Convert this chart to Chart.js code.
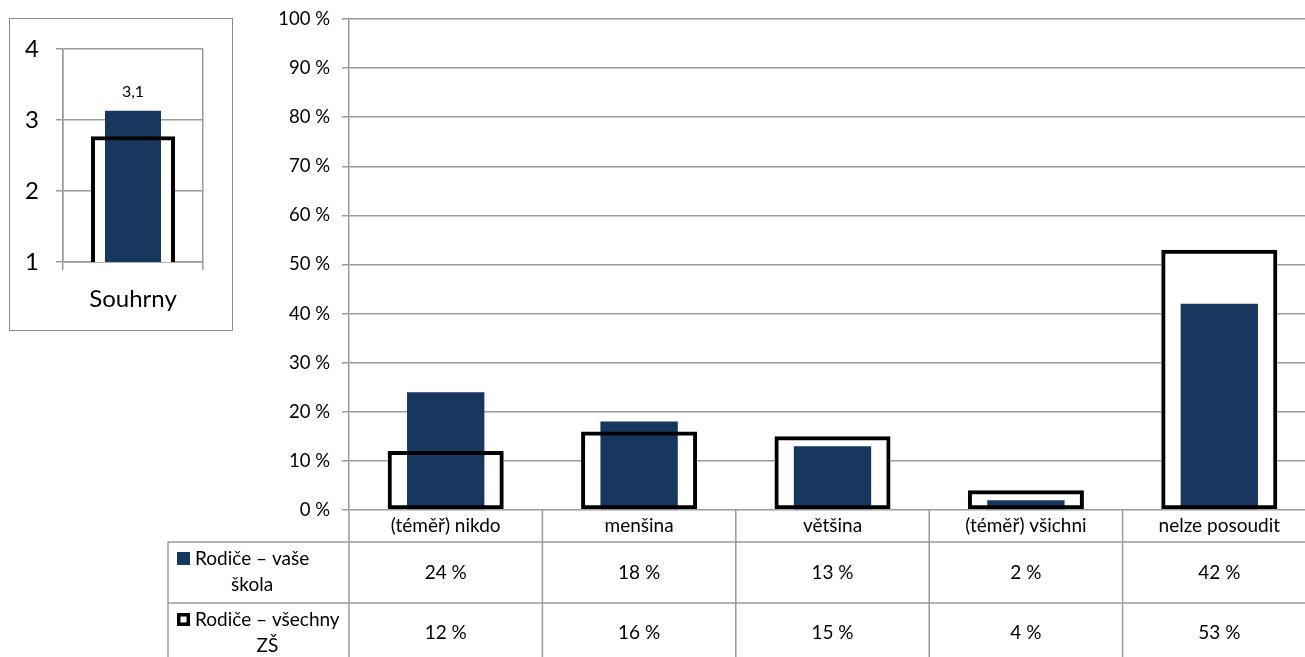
<!DOCTYPE html>
<html>
<head>
<meta charset="utf-8">
<script src="https://cdn.jsdelivr.net/npm/chart.js@4"></script>
<style>
html, body { margin: 0; padding: 0; background: #fff; overflow: hidden; width: 1305px; height: 657px; }
#mainBox { position: absolute; left: 0; top: 0; width: 1317px; height: 657px; }
#summaryBox { position: absolute; left: 9px; top: 18px; width: 224px; height: 313px; box-sizing: border-box; border: 1px solid #8c8c8c; background: #fff; }
</style>
</head>
<body>
<div id="mainBox"><canvas id="mainChart"></canvas></div>
<div id="summaryBox"><canvas id="summaryChart"></canvas></div>
<script>
// main chart data
const categories = ['(téměř) nikdo', 'menšina', 'většina', '(téměř) všichni', 'nelze posoudit'];
const schoolValues = [24, 18, 13, 2, 42];
const allSchoolsValues = [12, 16, 15, 4, 53];
const seriesNames = [['Rodiče – vaše', 'škola'], ['Rodiče – všechny', 'ZŠ']];
const yTickValues = [0, 10, 20, 30, 40, 50, 60, 70, 80, 90, 100];

// summary chart data
const summaryLabels = ['Souhrny'];
const summarySchool = [3.13];
const summaryAll = [2.77];
const summaryTickValues = [1, 2, 3, 4];

const FONT = 'Lato, "Open Sans", sans-serif';
const NAVY = '#17375E';
const GRID = '#9a9a9a';

function barDatasets(school, all) {
    return [
        { data: all, backgroundColor: '#fff', borderWidth: 0, barPercentage: 0.6, categoryPercentage: 1, grouped: false, order: 3 },
        { data: school, backgroundColor: NAVY, borderWidth: 0, barPercentage: 0.4, categoryPercentage: 1, grouped: false, order: 2 },
        { data: all, backgroundColor: 'rgba(0,0,0,0)', borderColor: '#000', borderWidth: 4, borderSkipped: false,
          barPercentage: 0.6, categoryPercentage: 1, grouped: false, order: 1 }
    ];
}

const dataTable = {
    id: 'dataTable',
    afterDraw(chart) {
        const ctx = chart.ctx;
        const x = chart.scales.x;
        const area = chart.chartArea;
        const half = (x.getPixelForValue(1) - x.getPixelForValue(0)) / 2;
        const rows = [542, 603];
        const bottom = 657;
        const tableLeft = 168;

        ctx.save();
        ctx.strokeStyle = GRID;
        ctx.lineWidth = 1.5;
        ctx.beginPath();
        for (let i = 0; i <= categories.length; i++) {
            const bx = x.getPixelForValue(0) - half + i * half * 2;
            ctx.moveTo(bx, area.bottom);
            ctx.lineTo(bx, bottom);
        }
        ctx.moveTo(tableLeft, rows[0]);
        ctx.lineTo(tableLeft, bottom);
        rows.forEach(ry => { ctx.moveTo(tableLeft, ry); ctx.lineTo(area.right + 5, ry); });
        ctx.stroke();

        ctx.fillStyle = '#000';
        ctx.font = '19px ' + FONT;
        ctx.textAlign = 'center';
        ctx.textBaseline = 'middle';
        categories.forEach((c, i) => {
            const cx = x.getPixelForValue(i);
            ctx.fillText(c, cx, 526);
            ctx.fillText(schoolValues[i] + ' %', cx, 573);
            ctx.fillText(allSchoolsValues[i] + ' %', cx, 633);
        });

        // legend cells
        const legendRows = [559, 620];
        seriesNames.forEach((lines, r) => {
            const y1 = legendRows[r];
            if (r === 0) {
                ctx.fillStyle = NAVY;
                ctx.fillRect(177, y1 - 7, 13, 13);
            } else {
                ctx.fillStyle = '#000';
                ctx.fillRect(177, y1 - 7, 13, 13);
                ctx.fillStyle = '#fff';
                ctx.fillRect(180.5, y1 - 3.5, 6, 6);
            }
            ctx.fillStyle = '#000';
            const w = ctx.measureText(lines[0]).width;
            const cx = 195 + w / 2;
            ctx.fillText(lines[0], cx, y1);
            ctx.fillText(lines[1], cx, y1 + 26);
        });
        ctx.restore();
    }
};

new Chart(document.getElementById('mainChart'), {
    type: 'bar',
    data: { labels: categories, datasets: barDatasets(schoolValues, allSchoolsValues) },
    options: {
        animation: false,
        responsive: true,
        maintainAspectRatio: false,
        layout: { padding: { top: 19, right: 1, left: 0, bottom: 0 } },
        plugins: { legend: { display: false }, tooltip: { enabled: false } },
        scales: {
            x: {
                ticks: { display: false },
                grid: { display: false, drawTicks: false },
                border: { display: false },
                afterFit: s => { s.height = 147; }
            },
            y: {
                min: 0, max: 100,
                afterBuildTicks: s => { s.ticks = yTickValues.map(v => ({ value: v })); },
                ticks: { callback: v => v + ' %', color: '#000', font: { family: FONT, size: 18.5 }, padding: 12 },
                grid: { color: GRID, lineWidth: 1.5, tickLength: 7 },
                border: { color: GRID, width: 1.5 },
                afterFit: s => { s.width = 349; s.paddingTop = 0; s.paddingBottom = 0; }
            }
        }
    },
    plugins: [dataTable]
});

const valueLabel = {
    id: 'valueLabel',
    afterDatasetsDraw(chart) {
        const ctx = chart.ctx;
        const meta = chart.getDatasetMeta(1);
        ctx.save();
        ctx.fillStyle = '#000';
        ctx.font = '16px ' + FONT;
        ctx.textAlign = 'center';
        ctx.textBaseline = 'middle';
        meta.data.forEach((bar, i) => {
            const v = chart.data.datasets[1].data[i];
            ctx.fillText(v.toFixed(1).replace('.', ','), bar.x, bar.y - 19);
        });
        ctx.restore();
    }
};

new Chart(document.getElementById('summaryChart'), {
    type: 'bar',
    data: { labels: summaryLabels, datasets: barDatasets(summarySchool, summaryAll) },
    options: {
        animation: false,
        responsive: true,
        maintainAspectRatio: false,
        layout: { padding: { top: 30, right: 29, left: 0, bottom: 0 } },
        plugins: { legend: { display: false }, tooltip: { enabled: false } },
        scales: {
            x: {
                ticks: { color: '#000', font: { family: FONT, size: 24 }, padding: 15 },
                grid: { offset: true, color: GRID, lineWidth: 1.5, tickLength: 8 },
                border: { color: GRID, width: 1.5 },
                afterFit: s => { s.height = 68; }
            },
            y: {
                min: 1, max: 4,
                afterBuildTicks: s => { s.ticks = summaryTickValues.map(v => ({ value: v })); },
                ticks: { color: '#000', font: { family: FONT, size: 24 }, padding: 17 },
                grid: { color: GRID, lineWidth: 1.5, tickLength: 7 },
                border: { color: GRID, width: 1.5 },
                afterFit: s => { s.width = 53; s.paddingTop = 0; s.paddingBottom = 0; }
            }
        }
    },
    plugins: [valueLabel]
});
</script>
</body>
</html>
